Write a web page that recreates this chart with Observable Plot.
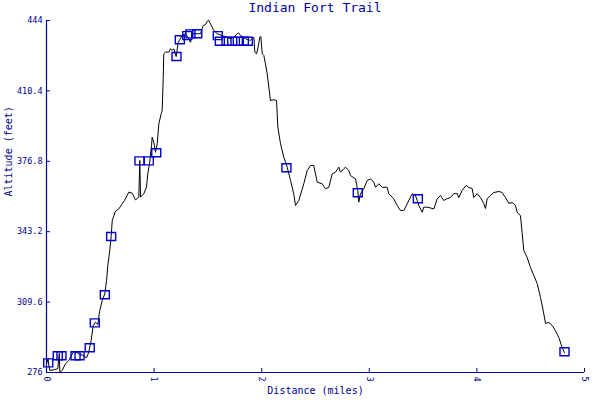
<!DOCTYPE html>
<html>
<head>
<meta charset="utf-8">
<script src="https://cdn.jsdelivr.net/npm/d3@7"></script>
<script src="https://cdn.jsdelivr.net/npm/@observablehq/plot@0.6"></script>
<style>
  html, body { margin: 0; padding: 0; background: white; }
  #title { width: 570px; padding-left: 30px; height: 16px; line-height: 16px; text-align: center;
    font: 13px "DejaVu Sans Mono", monospace; color: #0000a0; }
</style>
</head>
<body>
<div id="title">Indian Fort Trail</div>
<div id="chart"></div>
<script>
const distance = [0.005,0.014,0.023,0.031,0.068,0.105,0.119,0.124,0.146,0.177,
  0.207,0.239,0.260,0.300,0.341,0.372,0.393,0.415,0.434,0.455,
  0.477,0.495,0.518,0.542,0.558,0.570,0.588,0.601,0.611,0.641,
  0.672,0.704,0.725,0.765,0.796,0.827,0.858,0.867,0.874,0.904,
  0.929,0.941,0.957,0.976,0.982,0.997,1.013,1.029,1.044,1.066,
  1.075,1.085,1.090,1.106,1.137,1.152,1.168,1.183,1.205,1.224,
  1.261,1.292,1.322,1.338,1.354,1.401,1.431,1.456,1.478,1.494,
  1.508,1.524,1.555,1.586,1.633,1.679,1.710,1.741,1.772,1.787,
  1.803,1.849,1.896,1.927,1.936,1.952,1.967,1.982,1.992,2.005,
  2.020,2.035,2.051,2.066,2.082,2.112,2.138,2.150,2.175,2.205,
  2.237,2.268,2.298,2.314,2.345,2.391,2.423,2.454,2.484,2.516,
  2.562,2.593,2.624,2.655,2.686,2.717,2.732,2.763,2.779,2.809,
  2.825,2.872,2.893,2.902,2.918,2.949,2.980,3.011,3.042,3.058,
  3.088,3.120,3.166,3.181,3.228,3.259,3.290,3.321,3.352,3.383,
  3.399,3.429,3.445,3.460,3.492,3.506,3.538,3.600,3.631,3.662,
  3.692,3.724,3.755,3.785,3.817,3.832,3.863,3.901,3.925,3.956,
  3.971,4.003,4.033,4.064,4.080,4.096,4.126,4.157,4.204,4.235,
  4.266,4.297,4.328,4.359,4.374,4.405,4.421,4.436,4.467,4.498,
  4.529,4.560,4.591,4.616,4.638,4.668,4.700,4.730,4.761,4.793,
  4.814];
const altitude = [280.8,282.7,278.9,277.0,277.3,277.8,285.1,276.0,277.0,280.2,
  281.7,284.9,286.2,284.9,284.1,283.0,285.7,291.3,298.4,300.0,
  298.9,305.6,310.4,313.6,319.9,327.1,334.2,340.9,348.5,353.0,
  354.1,356.5,358.1,362.1,361.6,358.4,359.7,377.2,359.7,361.3,
  364.4,370.8,375.6,384.3,388.3,385.9,381.1,385.2,394.7,399.5,
  401.0,416.9,428.1,428.9,428.9,430.5,429.7,430.5,426.8,433.6,
  436.8,437.7,435.3,433.6,437.7,437.7,437.7,441.6,442.1,443.7,
  444.0,442.4,439.2,437.7,436.8,436.0,435.3,436.0,437.7,438.0,
  436.8,435.3,434.5,436.0,428.9,428.1,431.3,436.0,436.4,428.1,
  427.3,423.3,418.6,412.2,405.8,406.2,405.8,393.1,385.2,378.8,
  374.0,367.6,361.3,355.7,358.1,366.1,372.4,374.8,374.8,366.8,
  366.1,363.7,364.4,370.8,371.6,374.0,371.6,373.2,374.0,372.4,
  370.0,368.4,362.9,357.3,361.3,363.7,367.6,368.4,366.8,364.4,
  366.1,364.4,364.4,361.3,358.9,355.7,353.3,353.3,356.5,359.7,
  361.3,360.5,358.1,355.7,352.5,354.9,354.9,354.1,358.9,360.5,
  358.1,359.0,359.5,361.4,361.4,359.5,362.9,365.3,364.3,363.8,
  359.5,361.4,359.5,356.7,354.3,359.0,360.5,361.9,362.4,361.9,
  359.5,356.7,357.1,355.7,352.4,350.9,342.3,334.2,330.9,326.1,
  322.3,318.5,311.8,305.6,299.4,299.9,298.4,296.0,292.7,287.9,
  285.5];
const markerDistance = [0.016,0.105,0.139,0.27,0.307,0.402,0.449,0.542,0.601,0.864,0.951,1.02,1.208,1.239,1.308,1.338,1.401,1.592,1.611,1.673,1.726,1.778,1.834,1.871,2.23,2.893,3.451,4.814];
const markerAltitude = [280.6,284.0,284.0,284.0,284.0,287.8,299.7,313.1,340.9,377.0,377.0,380.9,426.8,434.8,436.8,437.6,437.7,436.8,434.1,434.1,434.1,434.1,434.1,434.1,373.7,361.8,358.9,285.9];
const xTicks = [0, 1, 2, 3, 4, 5];
const yTicks = [276, 309.6, 343.2, 376.8, 410.4, 444];
const xLabel = "Distance (miles)";
const yLabel = "Altitude (feet)";

const axisColor = "#00008b";
const markerColor = "#0000cc";
const mono = "DejaVu Sans Mono, monospace";
const boxSymbol = { draw(context) { context.rect(-4.5, -4, 9, 8); } };

const W = 600, H = 384, mt = 4, mb = 28, ml = 46, mr = 16;

const chart = Plot.plot({
  width: W, height: H,
  marginTop: mt, marginBottom: mb, marginLeft: ml, marginRight: mr,
  style: { fontFamily: mono, background: "white" },
  x: { domain: [0, 5] },
  y: { domain: [276, 444] },
  marks: [
    Plot.axisY({ ticks: yTicks, tickSize: 0, tickPadding: 4, color: axisColor, fontSize: 8.5, label: null, tickFormat: d => String(d) }),
    Plot.axisX({ ticks: xTicks, tickSize: 0, tickPadding: 4, tickRotate: 90, color: axisColor, fontSize: 8.5, label: null, tickFormat: d => String(d) }),
    Plot.tickY(yTicks, { stroke: axisColor, insetRight: W - ml - mr - 4 }),
    Plot.tickX(xTicks, { stroke: axisColor, insetTop: H - mt - mb - 4 }),
    Plot.ruleX([0], { stroke: axisColor, strokeWidth: 1.2 }),
    Plot.ruleY([276], { stroke: axisColor, strokeWidth: 1.2 }),
    Plot.line(altitude, { x: distance, y: altitude, stroke: "black", strokeWidth: 1 }),
    Plot.dot(markerAltitude, { x: markerDistance, y: markerAltitude, symbol: boxSymbol, stroke: markerColor, strokeWidth: 1.4, fill: "none" }),
    Plot.text([xLabel], { frameAnchor: "bottom", dy: 21, fill: axisColor, fontSize: 10, fontFamily: mono }),
    Plot.text([yLabel], { frameAnchor: "left", dx: -38, rotate: -90, fill: axisColor, fontSize: 10, fontFamily: mono })
  ]
});
document.getElementById("chart").appendChild(chart);
</script>
</body>
</html>
